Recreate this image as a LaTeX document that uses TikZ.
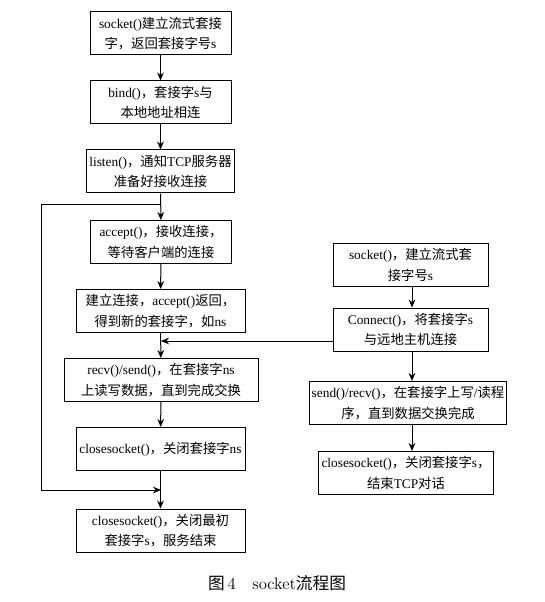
\documentclass[tikz,border=0pt]{standalone}
\usepackage{fontspec}
\setmainfont{Liberation Serif}
\newfontfamily\cjk{Noto Sans CJK SC}
\newfontfamily\capfont{Latin Modern Roman}
\newcommand{\zh}[1]{{\cjk #1}}
\usetikzlibrary{arrows.meta,positioning}

\begin{document}
\begin{tikzpicture}[
    x=0.75pt,y=-0.75pt,
    box/.style={rectangle,draw,line width=0.75pt,minimum width=105.75pt,minimum height=32.25pt,
      align=center,inner sep=2pt,font=\fontsize{10pt}{15.5pt}\selectfont},
    arrow/.style={-{Stealth[length=6pt,width=5pt]},line width=0.75pt}
    ]
    \useasboundingbox (0,0) rectangle (544,602);

    % server side
    \node[box] (sock) at (160.5,33.5) {socket()\zh{建立流式套接}\\\zh{字，返回套接字号}s};
    \node[box] (bind) at (160.5,102.5) {bind()\zh{，套接字}s\zh{与}\\\zh{本地地址相连}};
    \node[box] (listen) at (160.5,171.5) {listen()\zh{，通知}TCP\zh{服务器}\\\zh{准备好接收连接}};
    \node[box] (accept) at (161,242) {accept()\zh{，接收连接，}\\\zh{等待客户端的连接}};
    \node[box,minimum width=126.75pt] (newsock) at (160.5,311) {\zh{建立连接，}accept()\zh{返回，}\\\zh{得到新的套接字，如}ns};
    \node[box,minimum width=145.5pt] (recv) at (161,380) {recv()/send()\zh{，在套接字}ns\\\zh{上读写数据，直到完成交换}};
    \node[box,minimum width=126.75pt] (closens) at (160.5,449) {closesocket()\zh{，关闭套接字}ns};
    \node[box,minimum width=126.75pt] (closes) at (160.5,530.5) {closesocket()\zh{，关闭最初}\\\zh{套接字}s\zh{，服务结束}};

    % client side
    \node[box,minimum width=116.25pt] (csock) at (410.5,265) {socket()\zh{，建立流式套}\\\zh{接字号}s};
    \node[box,minimum width=116.25pt] (connect) at (410.5,329.5) {Connect()\zh{，将套接字}s\\\zh{与远地主机连接}};
    \node[box,minimum width=145.5pt] (send) at (408,403) {send()/recv()\zh{，在套接字上写}/\zh{读程}\\\zh{序，直到数据交换完成}};
    \node[box,minimum width=118.5pt] (cclose) at (406,473) {closesocket()\zh{，关闭套接字}s\zh{，}\\\zh{结束}TCP\zh{对话}};

    \node[font=\fontsize{12.5pt}{14pt}\selectfont] (caption) at (277,583) {\zh{图}\,{\capfont 4\quad socket}\zh{流程图}};

    \draw[arrow] (sock)--(bind);
    \draw[arrow] (bind)--(listen);
    \draw[arrow] (listen)--(accept);
    \draw[arrow] (accept)--(newsock);
    \draw[arrow] (newsock)--(recv);
    \draw[arrow] (recv)--(closens);
    \draw[arrow] (closens)--(closes);

    \draw[arrow] (csock.south-|412,0)--(connect.north-|412,0);
    \draw[arrow] (connect.south-|412,0)--(send.north-|412,0);
    \draw[arrow] (send.south-|412,0)--(cclose.north-|412,0);

    % loop back and data link
    \coordinate (looptop) at (161,204);
    \coordinate (loopbot) at (161,490);
    \coordinate (link) at (161,341);
    \draw[line width=0.75pt] (looptop)--++(-120,0)--++(0,286);
    \draw[arrow] (41,490)--(loopbot);
    \draw[arrow] (connect.west|-link)--(link);

  \end{tikzpicture}
\end{document}
